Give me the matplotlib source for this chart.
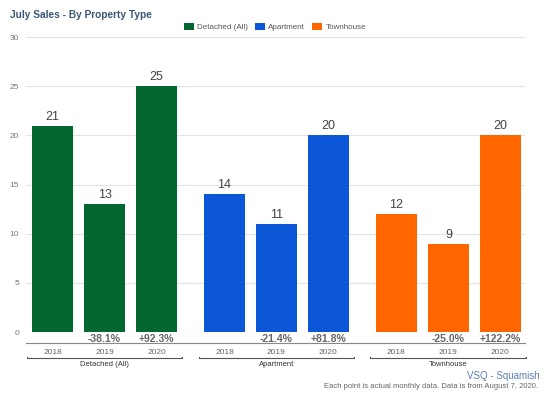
import matplotlib
matplotlib.use('Agg')
import matplotlib.pyplot as plt
import matplotlib.transforms as mtrans
import numpy as np

plt.rcParams['font.family'] = ['Liberation Sans', 'DejaVu Sans']

groups = ['Detached (All)', 'Apartment', 'Townhouse']
years = ['2018', '2019', '2020']
sales = [[21, 13, 25],
         [14, 11, 20],
         [12, 9, 20]]
changes = [['', '-38.1%', '+92.3%'],
           ['', '-21.4%', '+81.8%'],
           ['', '-25.0%', '+122.2%']]
colors = ['#03672f', '#0c57d7', '#ff6600']

fig = plt.figure(figsize=(5.5, 3.94), dpi=100)
ax = fig.add_axes([0.047, 0.157, 0.908, 0.749])

stride = 3.31
w = 0.8
for g in range(3):
    xs = g * stride + np.arange(3)
    ax.bar(xs, sales[g], width=w, color=colors[g], zorder=2, label=groups[g])
    for x, v in zip(xs, sales[g]):
        ax.text(x, v + 0.3, str(v), ha='center', va='bottom', fontsize=9, color='#444444')

xmin = -0.4 - 0.115
xmax = 2 * stride + 2 + 0.4 + 0.08
ax.set_xlim(xmin, xmax)
ax.set_ylim(0, 30)
ax.set_yticks(range(0, 31, 5))
ax.tick_params(axis='y', labelsize=6, colors='#777777', length=0, pad=5)
ax.set_xticks([])
ax.grid(axis='y', color='#e3e3e3', linewidth=0.8, zorder=0)
for s in ax.spines.values():
    s.set_visible(False)

tr = mtrans.blended_transform_factory(ax.transData, ax.transAxes)
px = 1.0 / 295  # axes fraction per pixel (vertical)
for g in range(3):
    xs = g * stride + np.arange(3)
    for i, x in enumerate(xs):
        ax.text(x, -7 * px, changes[g][i], transform=tr, ha='center', va='center',
                fontsize=7.5, fontweight='bold', color='#666666')
        ax.text(x, -20 * px, years[i], transform=tr, ha='center', va='center',
                fontsize=6, color='#666666')
    x0 = xs[0] - w / 2 - 0.1
    x1 = xs[-1] + w / 2 + 0.1
    ax.plot([x0, x0, x1, x1], [-24.5 * px, -26 * px, -26 * px, -24.5 * px], transform=tr,
            color='#555555', lw=0.8, clip_on=False)
    ax.text((x0 + x1) / 2, -32 * px, groups[g], transform=tr, ha='center', va='center',
            fontsize=5.5, color='#333333')

ax.plot([xmin, xmax], [-11 * px, -11 * px], transform=tr, color='#888888', lw=0.8, clip_on=False)

fig.text(10 / 550, 1 - 15 / 394, 'July Sales - By Property Type', fontsize=7.3, fontweight='bold',
         color='#3b5676', va='center')
ax.legend(loc='center', bbox_to_anchor=(0.5, 1 - 27 / 394), bbox_transform=fig.transFigure,
          ncol=3, frameon=False, fontsize=5.8, handlelength=1.2, handleheight=1.0,
          columnspacing=0.9, handletextpad=0.4, labelcolor='#555555')
fig.text(540 / 550, 1 - 376 / 394, 'VSQ - Squamish', fontsize=7, color='#5b7fb0', ha='right', va='center')
fig.text(538 / 550, 1 - 386 / 394, 'Each point is actual monthly data. Data is from August 7, 2020.',
         fontsize=5.5, color='#666666', ha='right', va='center')

fig.savefig('out.png', dpi=100)
